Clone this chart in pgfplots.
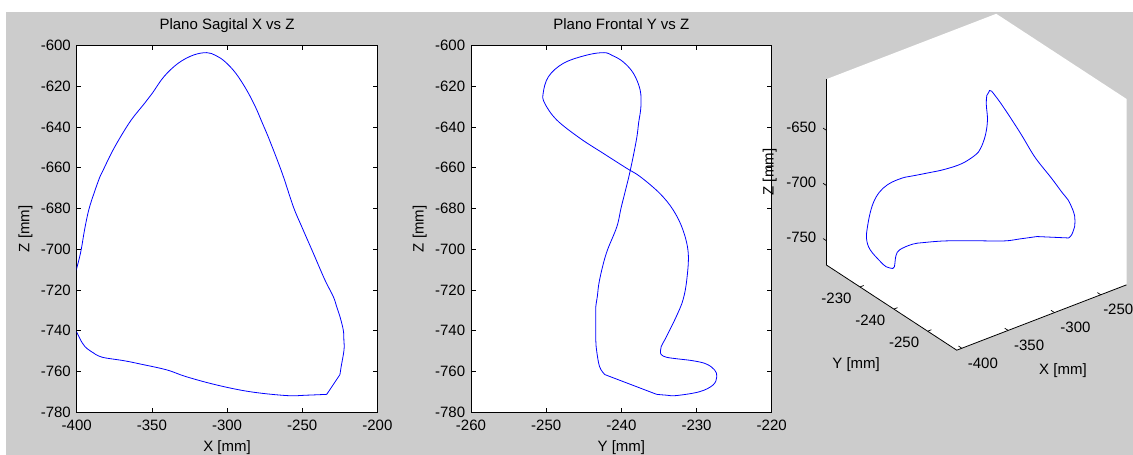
\documentclass[border=0pt]{standalone}
\usepackage{pgfplots}
\pgfplotsset{compat=1.18}
\usepackage{pgfplotstable}
\usepackage{fontspec}
\setmainfont{Liberation Sans}
\definecolor{figbg}{RGB}{204,204,204}

% ascent (after the gap) through the top and the descent down to the cusp
\pgfplotstableread{
x y z
-224.9 -242.2 -761.5
-224.1 -242.9 -757.6
-222.2 -243.3 -749.4
-222.3 -243.4 -744.5
-222.7 -243.4 -739.6
-224.9 -243.4 -733.1
-227.1 -243.4 -728.2
-229.3 -243.2 -723.3
-234.9 -242.9 -715.1
-242.6 -242.0 -702.0
-250.3 -240.6 -689.0
-255.9 -240.0 -679.2
-263.3 -238.9 -662.8
-271.8 -238.0 -646.4
-276.6 -237.7 -638.0
-281.2 -237.4 -630.1
-287.0 -237.5 -621.9
-294.2 -238.4 -613.7
-301.4 -239.8 -608.0
-307.5 -241.2 -605.0
-313.5 -242.3 -603.6
-322.4 -244.6 -604.8
-332.5 -247.7 -608.8
-342.0 -249.7 -615.4
-349.7 -250.4 -623.5
-354.8 -250.2 -628.4
-363.7 -248.6 -636.6
-371.4 -245.5 -645.6
-377.0 -242.4 -653.0
-381.8 -239.3 -660.3
-384.5 -237.5 -664.4
-388.5 -234.9 -672.6
-392.0 -233.1 -680.8
-394.8 -231.8 -690.6
-397.5 -231.1 -702.0
-402.0 -231.3 -715.1
-405.0 -231.8 -724.9
-404.5 -232.7 -733.1
-398.5 -234.0 -742.9
-394.5 -234.7 -747.8
-388.6 -234.8 -751.0
}\tabA
% bottom part
\pgfplotstableread{
x y z
-388.6 -234.8 -751.0
-383.0 -234.0 -753.0
-368.5 -230.5 -754.7
-357.8 -228.7 -756.3
-340.1 -227.6 -759.2
-327.3 -227.3 -762.5
-306.9 -227.8 -766.6
-284.7 -229.6 -769.9
-260.3 -232.7 -771.8
-247.0 -234.0 -771.6
-233.7 -235.3 -771.2
}\tabB
% straight gap
\pgfplotstableread{
x y z
-233.7 -235.3 -771.2
-224.9 -242.2 -761.5
}\tabC

\newcommand{\fs}{\fontsize{15}{17}\selectfont}

\begin{document}
\begin{tikzpicture}
\fill[white] (0,0) rectangle (1133pt,-455pt);
\fill[figbg] (6pt,-12pt) rectangle (1133pt,-455pt);

\pgfplotsset{
  mmtwo/.style={
    scale only axis, width=300.7pt, height=367pt,
    axis background/.style={fill=white},
    axis line style={black, line width=0.8pt},
    tick style={black, line width=0.7pt},
    major tick length=4.5pt,
    ymin=-780, ymax=-600, ytick={-780,-760,...,-600},
    /pgf/number format/assume math mode=true,
    tick label style={font=\fs, inner sep=0pt},
    xticklabel style={anchor=base, yshift=-18.6pt},
    yticklabel style={anchor=east, xshift=-5.7pt},
    label style={font=\fs, inner sep=0pt},
    title style={font=\fs, at={(axis description cs:0.5,1)}, anchor=base, yshift=10.3pt, inner sep=0pt},
    xlabel style={at={(axis description cs:0.5,0)}, anchor=base, yshift=-39pt},
    ylabel style={at={(axis description cs:-0.1576,0.5)}, anchor=base},
  },
  curve/.style={blue, line width=0.8pt},
}

\begin{axis}[mmtwo, at={(76.7pt,-45.3pt)}, anchor=north west,
  xmin=-400, xmax=-200, xtick={-400,-350,...,-200},
  title={Plano Sagital X vs Z}, xlabel={X [mm]}, ylabel={Z [mm]}]
\addplot[curve, smooth, tension=0.6] table[x=x, y=z] {\tabA};
\addplot[curve, smooth, tension=0.6] table[x=x, y=z] {\tabB};
\addplot[curve] table[x=x, y=z] {\tabC};
\end{axis}

\begin{axis}[mmtwo, at={(471pt,-45.3pt)}, anchor=north west,
  xmin=-260, xmax=-220, xtick={-260,-250,...,-220},
  title={Plano Frontal Y vs Z}, xlabel={Y [mm]}, ylabel={Z [mm]}]
\addplot[curve, smooth, tension=0.6] table[x=y, y=z] {\tabA};
\addplot[curve, smooth, tension=0.6] table[x=y, y=z] {\tabB};
\addplot[curve] table[x=y, y=z] {\tabC};
\end{axis}

\begin{axis}[at={(826.5pt,-13.8pt)}, anchor=north west,
  scale only axis, width=300pt, height=336.4pt,
  view={-37.5}{30}, clip=false, axis on top,
  xmin=-405.5, xmax=-222.2, ymin=-258.6, ymax=-220.1, zmin=-772, zmax=-603.6,
  xtick={-400,-350,-300,-250}, ytick={-250,-240,-230}, ztick={-750,-700,-650},
  xticklabels={-400,-350,-300,{\hspace*{-7pt}-250}},
  axis line style={draw=none},
  tick style={draw=none},
  /pgf/number format/assume math mode=true,
  tick label style={font=\fs, inner sep=0pt},
  xticklabel style={anchor=center, xshift=21pt, yshift=-15pt},
  yticklabel style={anchor=center, xshift=-23.5pt, yshift=-11.3pt},
  zticklabel style={anchor=east, xshift=-10pt, yshift=3.5pt},
]
\fill[white] (rel axis cs:0,0,0) -- (rel axis cs:0,1,0) -- (rel axis cs:0,1,1) -- (rel axis cs:1,1,1) -- (rel axis cs:1,0,1) -- (rel axis cs:1,0,0) -- cycle;
\draw[black, line width=0.8pt] (rel axis cs:0,1,1) -- (rel axis cs:0,1,0) -- (rel axis cs:0,0,0) -- (rel axis cs:1,0,0);
% tick marks on the three drawn edges
\pgfplotsinvokeforeach{-400,-350,-300,-250}{
  \draw[black, line width=0.7pt] (axis cs:#1,-258.6,-772) -- (axis cs:#1,-257.6,-772);
}
\pgfplotsinvokeforeach{-250,-240,-230}{
  \draw[black, line width=0.7pt] (axis cs:-405.5,#1,-772) -- (axis cs:-401.5,#1,-772);
}
\pgfplotsinvokeforeach{-750,-700,-650}{
  \draw[black, line width=0.7pt] (axis cs:-405.5,-220.1,#1) -- (axis cs:-405.5,-219.1,#1);
}
\addplot3[curve, smooth, tension=0.6] table[x=x, y=y, z=z] {\tabA};
\addplot3[curve, smooth, tension=0.6] table[x=x, y=y, z=z] {\tabB};
\addplot3[curve] table[x=x, y=y, z=z] {\tabC};
\node[font=\fs] at ([xshift=21.3pt, yshift=-52.8pt]rel axis cs:0.5,0,0) {X [mm]};
\node[font=\fs] at ([xshift=-35.5pt, yshift=-57pt]rel axis cs:0,0.5,0) {Y [mm]};
\node[font=\fs, rotate=90] at ([xshift=-56.7pt]rel axis cs:0,1,0.5) {Z [mm]};
\end{axis}

\pgfresetboundingbox
\useasboundingbox (0,0) rectangle (1133pt,-455pt);
\end{tikzpicture}
\end{document}
